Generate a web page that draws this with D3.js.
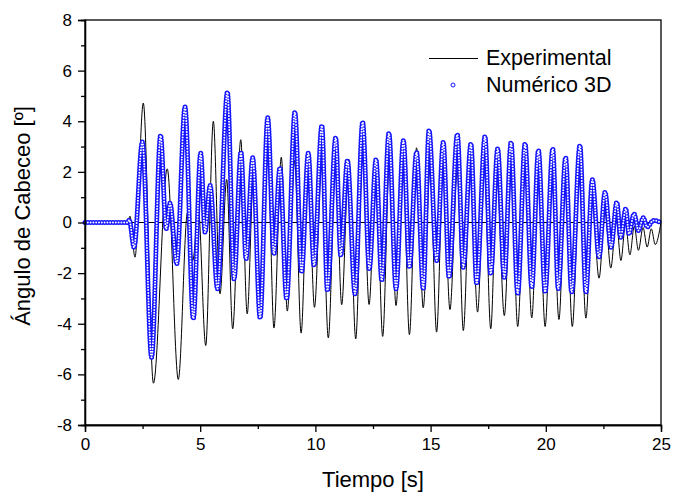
<!DOCTYPE html>
<html>
<head>
<meta charset="utf-8">
<script src="https://cdn.jsdelivr.net/npm/d3@7"></script>
<style>
  body { margin: 0; background: #fff; }
  svg { font-family: "Liberation Sans", Arial, sans-serif; }
  .axis path, .axis line { stroke: #000; stroke-width: 1.3; }
  .axis text { font-size: 17px; fill: #000; }
</style>
</head>
<body>
<div id="box"></div>
<script>
// experimental signal: peaks and troughs
const expT = [0, 1.85, 1.95, 2.17, 2.53, 2.97, 3.57, 4.05, 4.45, 4.68, 4.92, 5.24, 5.57, 5.86, 6.15, 6.41, 6.76,
  7.04, 7.32, 7.62, 7.94, 8.2, 8.52, 8.78, 9.1, 9.38, 9.68, 9.96, 10.27, 10.56, 10.88, 11.14, 11.45, 11.75,
  12.05, 12.33, 12.63, 12.92, 13.22, 13.5, 13.8, 14.08, 14.39, 14.68, 14.98, 15.26, 15.55, 15.84, 16.16,
  16.42, 16.73, 17.04, 17.33, 17.61, 17.88, 18.2, 18.5, 18.78, 19.1, 19.39, 19.68, 19.97, 20.28, 20.57,
  20.86, 21.15, 21.46, 21.74, 22.02, 22.31, 22.57, 22.82, 23.06, 23.26, 23.46, 23.65, 23.84, 24.02, 24.22,
  24.4, 24.58, 24.75, 25]
const expV = [0, 0, 0.25, -1.37, 4.72, -6.35, 2.12, -6.2, 0.4, -1.5, 0.5, -4.86, 4.0, -2.82, 1.7, -4.2, 3.27,
  -3.61, 2.0, -3.72, 2.7, -4.17, 2.58, -3.5, 2.45, -4.37, 2.4, -3.35, 2.2, -4.56, 2.45, -3.25, 2.5, -4.6,
  2.6, -3.24, 2.5, -4.5, 2.6, -3.28, 2.6, -4.43, 2.95, -3.37, 2.2, -4.33, 2.3, -3.44, 2.05,
  -4.27, 2.2, -3.54, 2.2, -4.2, 1.8, -3.68, 2.0, -4.11, 2.0, -3.77, 1.9, -4.11, 1.9, -3.83,
  1.8, -4.11, 1.7, -3.78, 0.8, -2.2, 0.4, -1.8, 0.1, -1.5, -0.05, -1.28, -0.15, -1.1, -0.2,
  -0.97, -0.25, -0.87, 0]

// numerical 3D signal
const numT = [0, 1.85, 1.92, 2.13, 2.49, 2.89, 3.28, 3.52, 3.69, 3.98, 4.34, 4.7, 5.02, 5.21, 5.43, 5.75, 6.18,
  6.47, 6.77, 6.99, 7.28, 7.6, 7.93, 8.2, 8.46, 8.75, 9.11, 9.4, 9.69, 9.94, 10.28, 10.52, 10.88, 11.1,
  11.39, 11.72, 12.05, 12.34, 12.63, 12.88, 13.19, 13.5, 13.82, 14.08, 14.39, 14.68, 14.93, 15.26, 15.55,
  15.8, 16.16, 16.42, 16.75, 17.0, 17.36, 17.61, 17.91, 18.2, 18.49, 18.78, 19.1, 19.39, 19.68, 19.97,
  20.3, 20.54, 20.86, 21.12, 21.48, 21.74, 22.02, 22.31, 22.57, 22.83, 23.08, 23.25, 23.47, 23.61, 23.83,
  24.02, 24.23, 24.4, 24.67, 25]
const numV = [0, 0, 0.1, -0.98, 3.18, -5.32, 3.44, -0.25, 0.76, -1.63, 4.56, -3.8, 2.74, -0.38, 1.46, -2.62, 5.15,
  -2.23, 2.78, -1.44, 2.56, -3.77, 4.14, -1.24, 2.16, -3.02, 4.36, -1.96, 2.74, -1.7, 3.83, -2.69, 3.35, -1.3,
  2.45, -2.82, 3.97, -1.83, 2.49, -2.29, 3.53, -2.62, 3.24, -1.77, 2.78, -2.62, 3.64, -1.5, 3.17,
  -2.16, 3.48, -1.77, 3.11, -2.42, 3.4, -2.03, 2.91, -2.16, 3.17, -2.82, 3.11, -2.56, 2.85, -2.75,
  2.91, -2.62, 2.56, -2.75, 3.04, -2.75, 1.69, -1.37, 1.2, -0.98, 0.8, -0.58, 0.54, -0.45, 0.34,
  -0.32, 0.19, -0.18, 0.08, 0]

const xTicks = [0, 5, 10, 15, 20, 25]
const xMinor = [2.5, 7.5, 12.5, 17.5, 22.5]
const yTicks = [-8, -6, -4, -2, 0, 2, 4, 6, 8]
const yMinor = [-7, -5, -3, -1, 1, 3, 5, 7]
const seriesNames = ['Experimental', 'Numérico 3D']

const width = 675
const height = 496
const margin = { left: 85, right: 14, top: 20, bottom: 71 }
const blue = '#1414ff'

const svg = d3.select('#box').append('svg')
  .attr('width', width)
  .attr('height', height)

const xScale = d3.scaleLinear().domain([0, 25]).range([margin.left, width - margin.right])
const yScale = d3.scaleLinear().domain([-8, 8]).range([height - margin.bottom, margin.top])

// zero line
svg.append('line')
  .attr('x1', xScale(0)).attr('x2', xScale(25))
  .attr('y1', yScale(0)).attr('y2', yScale(0))
  .attr('stroke', '#000').attr('stroke-width', 1)

const line = d3.line()
  .x(d => xScale(d[0]))
  .y(d => yScale(d[1]))
  .curve(d3.curveMonotoneX)

const expData = expT.map((t, i) => [t, expV[i]])
const numData = numT.map((t, i) => [t, numV[i]])

svg.append('path')
  .datum(expData)
  .attr('d', line)
  .attr('fill', 'none')
  .attr('stroke', '#000')
  .attr('stroke-width', 1)

// open circle markers: blue dots with white centres along the path
svg.append('path')
  .datum(numData)
  .attr('d', line)
  .attr('fill', 'none')
  .attr('stroke', blue)
  .attr('stroke-width', 5)
  .attr('stroke-linecap', 'round')
  .attr('stroke-dasharray', '0 2.8')

svg.append('path')
  .datum(numData)
  .attr('d', line)
  .attr('fill', 'none')
  .attr('stroke', '#fff')
  .attr('stroke-width', 2)
  .attr('stroke-linecap', 'round')
  .attr('stroke-dasharray', '0 2.8')

// frame
svg.append('rect')
  .attr('x', xScale(0)).attr('y', yScale(8))
  .attr('width', xScale(25) - xScale(0))
  .attr('height', yScale(-8) - yScale(8))
  .attr('fill', 'none')
  .attr('stroke', '#000')
  .attr('stroke-width', 1.3)

const fmt = d => String(d)

svg.append('g')
  .attr('class', 'axis')
  .attr('transform', `translate(0, ${yScale(-8)})`)
  .call(d3.axisBottom(xScale).tickValues(xTicks).tickFormat(fmt).tickSizeOuter(0).tickSize(7).tickPadding(6))

svg.append('g')
  .attr('class', 'axis')
  .attr('transform', `translate(0, ${yScale(-8)})`)
  .call(d3.axisBottom(xScale).tickValues(xMinor).tickFormat('').tickSizeOuter(0).tickSize(4))

svg.append('g')
  .attr('class', 'axis')
  .attr('transform', `translate(${xScale(0)}, 0)`)
  .call(d3.axisLeft(yScale).tickValues(yTicks).tickFormat(fmt).tickSizeOuter(0).tickSize(7).tickPadding(6))

svg.append('g')
  .attr('class', 'axis')
  .attr('transform', `translate(${xScale(0)}, 0)`)
  .call(d3.axisLeft(yScale).tickValues(yMinor).tickFormat('').tickSizeOuter(0).tickSize(4))

svg.selectAll('.axis .domain').attr('stroke-width', 1.3)

// axis titles
svg.append('text')
  .text('Tiempo [s]')
  .attr('x', 373)
  .attr('y', 487)
  .attr('text-anchor', 'middle')
  .style('font-size', '22px')

svg.append('text')
  .text('Ángulo de Cabeceo [º]')
  .attr('transform', 'translate(30, 216) rotate(-90)')
  .attr('text-anchor', 'middle')
  .style('font-size', '22px')

// legend
const legend = svg.append('g')
legend.append('line')
  .attr('x1', 429).attr('x2', 478)
  .attr('y1', 58.5).attr('y2', 58.5)
  .attr('stroke', '#000').attr('stroke-width', 1)
legend.append('circle')
  .attr('cx', 453).attr('cy', 85).attr('r', 2)
  .attr('fill', 'none').attr('stroke', blue).attr('stroke-width', 1)
legend.selectAll('text.leg')
  .data(seriesNames)
  .enter()
  .append('text')
  .attr('class', 'leg')
  .text(d => d)
  .attr('x', 486)
  .attr('y', (d, i) => 65 + i * 26.5)
  .style('font-size', '21.5px')
</script>
</body>
</html>
